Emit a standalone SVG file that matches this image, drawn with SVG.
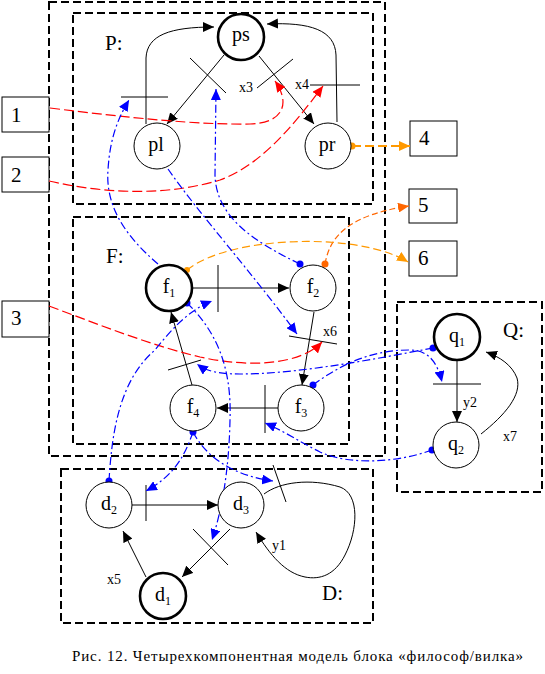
<svg xmlns="http://www.w3.org/2000/svg" width="545" height="674" viewBox="0 0 545 674">
<style>
.box{fill:none;stroke:#000;stroke-width:2;stroke-dasharray:8 4}
.nb{fill:#fff;stroke:#000;stroke-width:1}
.n{fill:#fff;stroke:#000;stroke-width:1}
.nt{fill:#fff;stroke:#000;stroke-width:2.6}
.t{font-family:"Liberation Serif","DejaVu Serif","Times New Roman",serif;fill:#000}
.lbl{font-size:20px;text-anchor:middle}
.sm{font-size:14px}
.big{font-size:21px}
.e{fill:none;stroke:#000;stroke-width:1}
.b{fill:none;stroke:#0000FF;stroke-width:1.2;stroke-dasharray:8 3 2 3}
.r{fill:none;stroke:#FF0000;stroke-width:1.2;stroke-dasharray:10 4}
.o{fill:none;stroke:#FF9900;stroke-width:1.2;stroke-dasharray:8 4}
.o2{fill:none;stroke:#FF6600;stroke-width:1.2;stroke-dasharray:6 3}
.o3{fill:none;stroke:#FF9900;stroke-width:2.2;stroke-dasharray:9 4}
</style>
<defs>
<marker id="ak" markerUnits="userSpaceOnUse" markerWidth="12" markerHeight="10" refX="11" refY="5" orient="auto"><path d="M0,0 L11,5 L0,10 z" fill="#000"/></marker>
<marker id="ab" markerUnits="userSpaceOnUse" markerWidth="12" markerHeight="10" refX="11" refY="5" orient="auto"><path d="M0,0 L11,5 L0,10 z" fill="#0000FF"/></marker>
<marker id="ar" markerUnits="userSpaceOnUse" markerWidth="12" markerHeight="10" refX="11" refY="5" orient="auto"><path d="M0,0 L11,5 L0,10 z" fill="#FF0000"/></marker>
<marker id="ao" markerUnits="userSpaceOnUse" markerWidth="12" markerHeight="10" refX="11" refY="5" orient="auto"><path d="M0,0 L11,5 L0,10 z" fill="#FF9900"/></marker>
<marker id="ao2" markerUnits="userSpaceOnUse" markerWidth="12" markerHeight="10" refX="11" refY="5" orient="auto"><path d="M0,0 L11,5 L0,10 z" fill="#FF6600"/></marker>
</defs>
<rect width="545" height="674" fill="#fff"/>

<g id="containers">
<rect class="box" x="49" y="2" width="336" height="454"/>
<rect class="box" x="73" y="13" width="300" height="191"/>
<rect class="box" x="73" y="217" width="276" height="227"/>
<rect class="box" x="61" y="469" width="312" height="154"/>
<rect class="box" x="397" y="302" width="145" height="190"/>
<text class="t big" x="105" y="50">P:</text>
<text class="t big" x="106" y="263">F:</text>
<text class="t big" x="503" y="337">Q:</text>
<text class="t big" x="322" y="600">D:</text>
</g>

<g id="box1"><rect class="nb" x="2" y="97" width="47" height="35"/><text class="t big" x="11" y="122">1</text></g>
<g id="box2"><rect class="nb" x="2" y="157" width="47" height="35"/><text class="t big" x="11" y="182">2</text></g>
<g id="box3"><rect class="nb" x="2" y="301" width="47" height="36"/><text class="t big" x="11" y="325">3</text></g>
<g id="box4"><rect class="nb" x="410" y="121" width="47" height="35"/><text class="t big" x="419" y="145">4</text></g>
<g id="box5"><rect class="nb" x="409" y="189" width="48" height="34"/><text class="t big" x="418" y="212">5</text></g>
<g id="box6"><rect class="nb" x="409" y="241" width="48" height="35"/><text class="t big" x="418" y="265">6</text></g>

<g id="connectors">
<!-- black -->
<path class="e" d="M146,124 L146,58 C147,35 170,27 214,27" marker-end="url(#ak)"/>
<line class="e" x1="121" y1="97" x2="168" y2="97"/>
<path class="e" d="M337,122 L336,55 C335,30 310,22 267,24" marker-end="url(#ak)"/>
<line class="e" x1="310" y1="85" x2="360" y2="85"/>
<line class="e" x1="224" y1="55" x2="167" y2="124" marker-end="url(#ak)"/>
<line class="e" x1="190" y1="58" x2="226" y2="93"/>
<line class="e" x1="259" y1="56" x2="314" y2="124" marker-end="url(#ak)"/>
<line class="e" x1="293" y1="59" x2="257" y2="88"/>
<line class="e" x1="193" y1="288" x2="289" y2="288" marker-end="url(#ak)"/>
<line class="e" x1="218" y1="265" x2="218" y2="312"/>
<line class="e" x1="314" y1="312" x2="302" y2="385" marker-end="url(#ak)"/>
<line class="e" x1="289" y1="336" x2="337" y2="344"/>
<line class="e" x1="278" y1="408" x2="217" y2="408" marker-end="url(#ak)"/>
<line class="e" x1="265" y1="385" x2="265" y2="433"/>
<line class="e" x1="192" y1="385" x2="171" y2="312" marker-end="url(#ak)"/>
<line class="e" x1="168" y1="370" x2="201" y2="360"/>
<line class="e" x1="457" y1="361" x2="457" y2="422" marker-end="url(#ak)"/>
<line class="e" x1="433" y1="384" x2="481" y2="384"/>
<path class="e" d="M481,434 C505,415 522,395 517,378 C512,365 500,357 486,352" marker-end="url(#ak)"/>
<line class="e" x1="132" y1="505" x2="218" y2="505" marker-end="url(#ak)"/>
<line class="e" x1="146" y1="485" x2="146" y2="521"/>
<line class="e" x1="230" y1="529" x2="182" y2="577" marker-end="url(#ak)"/>
<line class="e" x1="193" y1="529" x2="228" y2="565"/>
<line class="e" x1="146" y1="577" x2="123" y2="531" marker-end="url(#ak)"/>
<path class="e" d="M264,494 C280,482 310,478 340,487 C360,494 358,530 345,555 C335,575 320,580 305,577 C285,573 270,555 256,532" marker-end="url(#ak)"/>
<line class="e" x1="273" y1="465" x2="286" y2="502"/>
<!-- red -->
<path class="r" d="M50,108 C130,118 200,125 250,124 C285,123 290,102 275,81" marker-end="url(#ar)"/>
<path class="r" d="M49,181 C110,195 170,195 220,180 C260,165 290,130 323,86" marker-end="url(#ar)"/>
<path class="r" d="M49,306 C100,325 150,345 200,357 C250,368 300,365 322,342" marker-end="url(#ar)"/>
<!-- orange -->
<path class="o3" d="M352,146 L410,146" marker-end="url(#ao)"/>
<circle cx="352" cy="146" r="3.5" fill="#FF9900"/>
<path class="o2" d="M325,264 C330,235 350,215 409,206" marker-end="url(#ao2)"/>
<circle cx="325" cy="264" r="3.5" fill="#FF6600"/>
<path class="o" d="M187,270 C230,235 360,232 408,262" marker-end="url(#ao)"/>
<circle cx="187" cy="270" r="3" fill="#FF9900"/>
<!-- blue -->
<path class="b" d="M158,264 C130,240 105,210 108,170 C110,135 120,115 129,100" marker-end="url(#ab)"/>
<path class="b" d="M300,264 C250,240 216,215 215,175 L216,89" marker-end="url(#ab)"/>
<circle cx="300" cy="264" r="3.5" fill="#0000FF"/>
<path class="b" d="M168,169 C200,215 250,270 297,334" marker-end="url(#ab)"/>
<path class="b" d="M187,303 C215,330 232,365 230,420 C229,470 222,510 212,540" marker-end="url(#ab)"/>
<circle cx="187" cy="303" r="3.5" fill="#0000FF"/>
<path class="b" d="M109,481 C112,430 120,380 155,350 C175,325 190,310 212,301" marker-end="url(#ab)"/>
<circle cx="109" cy="481" r="3.5" fill="#0000FF"/>
<path class="b" d="M193,432 C185,455 175,475 146,491" marker-end="url(#ab)"/>
<path class="b" d="M193,432 C205,455 230,475 273,481" marker-end="url(#ab)"/>
<circle cx="193" cy="432" r="3.5" fill="#0000FF"/>
<path class="b" d="M433,348 C380,358 300,374 240,374 C215,374 205,370 197,364" marker-end="url(#ab)"/>
<circle cx="433" cy="348" r="3.5" fill="#0000FF"/>
<path class="b" d="M313,385 C340,365 370,350 410,350 C430,350 438,365 442,382" marker-end="url(#ab)"/>
<circle cx="313" cy="385" r="3.5" fill="#0000FF"/>
<path class="b" d="M432,450 C400,462 350,466 320,452 C300,442 282,430 265,423" marker-end="url(#ab)"/>
<circle cx="432" cy="450" r="3.5" fill="#0000FF"/>
</g>

<g id="edge-labels">
<text class="t sm" x="239" y="92">x3</text>
<text class="t sm" x="295" y="89">x4</text>
<text class="t sm" x="323" y="336">x6</text>
<text class="t sm" x="463" y="407">y2</text>
<text class="t sm" x="503" y="441">x7</text>
<text class="t sm" x="272" y="550">y1</text>
<text class="t sm" x="107" y="584">x5</text>
</g>

<g id="ps"><circle class="nt" cx="241" cy="37" r="23"/><text class="t lbl" x="241" y="41">ps</text></g>
<g id="pl"><circle class="n" cx="157" cy="146" r="23"/><text class="t lbl" x="156" y="151">pl</text></g>
<g id="pr"><circle class="n" cx="328" cy="146" r="23"/><text class="t lbl" x="327" y="151">pr</text></g>
<g id="f1"><circle class="nt" cx="169" cy="288" r="23"/><text class="t lbl" x="169" y="293">f<tspan font-size="12" dy="4">1</tspan></text></g>
<g id="f2"><circle class="n" cx="313" cy="288" r="23"/><text class="t lbl" x="313" y="293">f<tspan font-size="12" dy="4">2</tspan></text></g>
<g id="f3"><circle class="n" cx="301" cy="408" r="23"/><text class="t lbl" x="301" y="413">f<tspan font-size="12" dy="4">3</tspan></text></g>
<g id="f4"><circle class="n" cx="193" cy="408" r="23"/><text class="t lbl" x="193" y="413">f<tspan font-size="12" dy="4">4</tspan></text></g>
<g id="q1"><circle class="nt" cx="457" cy="337" r="23"/><text class="t lbl" x="457" y="342">q<tspan font-size="12" dy="4">1</tspan></text></g>
<g id="q2"><circle class="n" cx="456" cy="445" r="23"/><text class="t lbl" x="456" y="450">q<tspan font-size="12" dy="4">2</tspan></text></g>
<g id="d1"><circle class="nt" cx="163" cy="596" r="23"/><text class="t lbl" x="163" y="601">d<tspan font-size="12" dy="4">1</tspan></text></g>
<g id="d2"><circle class="n" cx="109" cy="505" r="23"/><text class="t lbl" x="109" y="510">d<tspan font-size="12" dy="4">2</tspan></text></g>
<g id="d3"><circle class="n" cx="241" cy="505" r="23"/><text class="t lbl" x="241" y="510">d<tspan font-size="12" dy="4">3</tspan></text></g>

<text class="t" x="72" y="661" font-size="15" textLength="451" lengthAdjust="spacing">Рис. 12.  Четырехкомпонентная модель блока «философ/вилка»</text>
</svg>
